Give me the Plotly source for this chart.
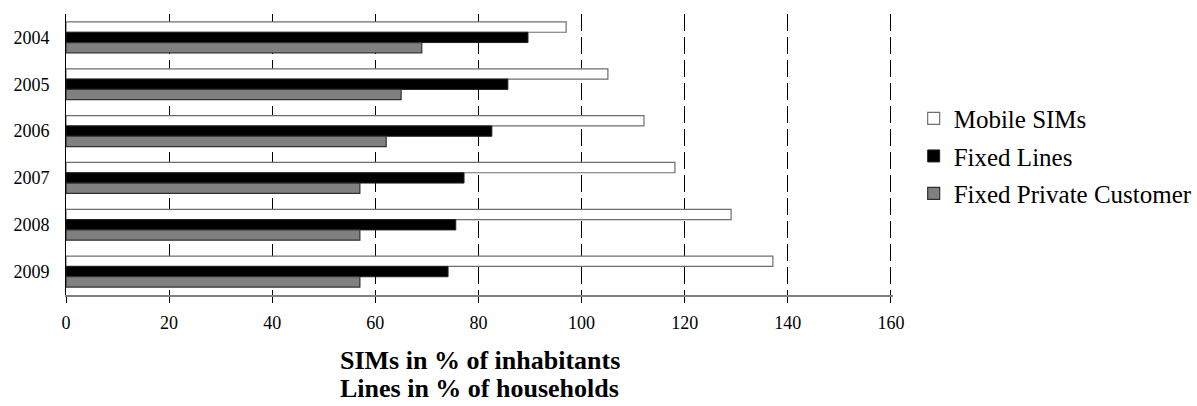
import plotly.graph_objects as go

years = ["2004", "2005", "2006", "2007", "2008", "2009"]
mobile_sims = [97.0, 105.1, 112.1, 118.1, 129.0, 137.1]
fixed_lines = [89.6, 85.7, 82.6, 77.2, 75.6, 74.1]
fixed_private = [69.0, 65.0, 62.1, 57.0, 57.0, 57.0]
x_ticks = [0, 20, 40, 60, 80, 100, 120, 140, 160]
title_lines = ["SIMs in % of inhabitants", "Lines in % of households"]

FONT = "Liberation Serif, Times New Roman, serif"

fig = go.Figure()
fig.add_trace(go.Bar(y=years, x=mobile_sims, orientation="h", name="Mobile SIMs",
                     marker=dict(color="white", line=dict(color="#6e6e6e", width=1.2)),
                     legendgroup="a"))
fig.add_trace(go.Bar(y=years, x=fixed_lines, orientation="h", name="Fixed Lines",
                     marker=dict(color="black", line=dict(color="#202020", width=1)),
                     legendgroup="b"))
fig.add_trace(go.Bar(y=years, x=fixed_private, orientation="h", name="Fixed Private Customer",
                     marker=dict(color="#808080", line=dict(color="#303030", width=1.2)),
                     legendgroup="c"))

fig.update_layout(
    width=1197, height=406,
    margin=dict(l=66, r=304, t=14, b=111, autoexpand=False),
    paper_bgcolor="white", plot_bgcolor="white",
    barmode="group", bargap=0.34, bargroupgap=0,
    font=dict(family=FONT, color="black"),
    showlegend=True,
    legend=dict(x=1.025, xanchor="left", y=0.494, yanchor="middle",
                font=dict(size=25, family=FONT, color="black"),
                traceorder="grouped", tracegroupgap=2, bgcolor="rgba(0,0,0,0)"),
    xaxis=dict(range=[0, 160.4], tickvals=x_ticks, ticktext=[str(v) for v in x_ticks],
               showgrid=True, gridcolor="black", gridwidth=1, griddash="17px,6px",
               zeroline=False, showline=True, linecolor="#808080", linewidth=1.5,
               ticks="outside", ticklen=6, tickcolor="black", tickwidth=1,
               ticklabelstandoff=5,
               tickfont=dict(size=18, family=FONT, color="black")),
    yaxis=dict(categoryorder="array", categoryarray=years, autorange="reversed",
               showgrid=False, zeroline=False, showline=True, linecolor="black", linewidth=1,
               ticks="", ticklabelstandoff=12,
               tickfont=dict(size=18, family=FONT, color="black")),
)

for text, yp in zip(title_lines, [-0.234, -0.3345]):
    fig.add_annotation(text="<b>" + text + "</b>", xref="paper", yref="paper",
                       x=0.5, y=yp, xanchor="center", yanchor="middle", showarrow=False,
                       font=dict(size=26, family=FONT, color="black"))

fig.write_html("out.html")
